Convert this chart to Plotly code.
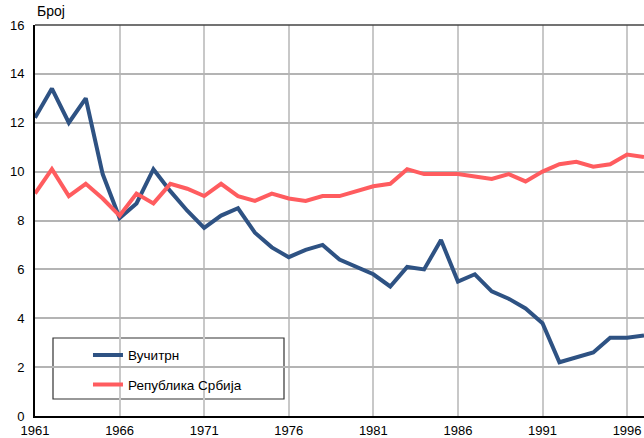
import plotly.graph_objects as go

years = list(range(1961, 1998))
vucitrn = [12.2, 13.4, 12.0, 13.0, 9.9, 8.1, 8.7, 10.1, 9.2, 8.4,
           7.7, 8.2, 8.5, 7.5, 6.9, 6.5, 6.8, 7.0, 6.4, 6.1,
           5.8, 5.3, 6.1, 6.0, 7.2, 5.5, 5.8, 5.1, 4.8, 4.4,
           3.8, 2.2, 2.4, 2.6, 3.2, 3.2, 3.3]
srbija = [9.1, 10.1, 9.0, 9.5, 8.9, 8.2, 9.1, 8.7, 9.5, 9.3,
          9.0, 9.5, 9.0, 8.8, 9.1, 8.9, 8.8, 9.0, 9.0, 9.2,
          9.4, 9.5, 10.1, 9.9, 9.9, 9.9, 9.8, 9.7, 9.9, 9.6,
          10.0, 10.3, 10.4, 10.2, 10.3, 10.7, 10.6]
x_ticks = [1961, 1966, 1971, 1976, 1981, 1986, 1991, 1996]
y_ticks = [0, 2, 4, 6, 8, 10, 12, 14, 16]
series_names = ["Вучитрн", "Република Србија"]
y_title = "Број"

fig = go.Figure()
fig.add_trace(go.Scatter(x=years, y=vucitrn, mode="lines", name=series_names[0],
                         line=dict(color="#2e5283", width=4), legendgroup="a"))
fig.add_trace(go.Scatter(x=years, y=srbija, mode="lines", name=series_names[1],
                         line=dict(color="#ff5c5f", width=4), legendgroup="b"))

font = dict(family="Liberation Sans, Arial, sans-serif", size=13, color="#000000")
legend_font = dict(family="Liberation Sans, Arial, sans-serif", size=13.5, color="#000000")
fig.update_layout(
    width=644, height=438,
    margin=dict(l=35, r=0, t=25, b=22, autoexpand=False),
    paper_bgcolor="white", plot_bgcolor="white",
    font=font,
    showlegend=True,
    legend=dict(x=0.087, y=0.195, xanchor="left", yanchor="top",
                bgcolor="rgba(0,0,0,0)", borderwidth=0,
                traceorder="grouped", tracegroupgap=9,
                font=legend_font, itemwidth=30),
    xaxis=dict(range=[1961, 1997], tickvals=x_ticks, ticks="",
               showgrid=True, gridcolor="#c8c8c8", gridwidth=1.5,
               showline=True, linecolor="black", linewidth=2,
               zeroline=False, tickfont=font, automargin=False,
               ticklabelstandoff=1),
    yaxis=dict(range=[0, 16], tickvals=y_ticks, ticks="",
               showgrid=True, gridcolor="#b4b4b4", gridwidth=1.5,
               showline=True, linecolor="black", linewidth=2,
               zeroline=False, tickfont=font, automargin=False,
               ticklabelstandoff=6),
    shapes=[
        dict(type="rect", xref="paper", yref="paper",
             x0=18/609, x1=249/609, y0=(416-399)/391, y1=(416-338)/391,
             line=dict(color="#333333", width=1.2), fillcolor="white", layer="below"),
        dict(type="line", xref="paper", yref="paper", x0=0, x1=1, y0=1, y1=1,
             line=dict(color="#444444", width=1.5)),
    ],
    annotations=[dict(text=y_title, xref="paper", yref="paper", x=0, y=1,
                      xanchor="left", yanchor="bottom", yshift=4, showarrow=False,
                      font=dict(family="Liberation Sans, Arial, sans-serif", size=14, color="black"))],
)
fig.write_html("out.html", config={"displayModeBar": False},
               post_script="document.body.style.margin='0';document.body.style.overflow='hidden';")
